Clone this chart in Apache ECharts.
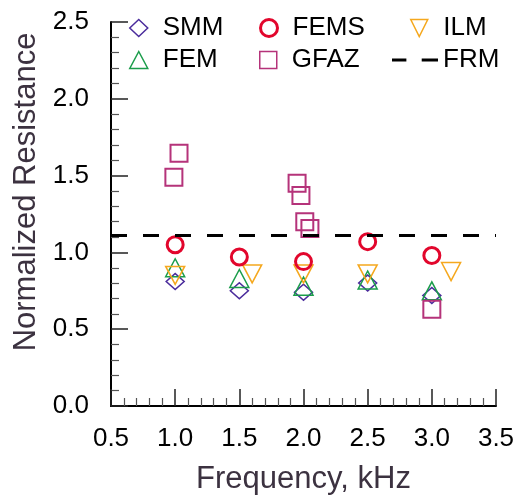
<!DOCTYPE html>
<html>
<head>
<meta charset="utf-8">
<script src="https://cdn.jsdelivr.net/npm/echarts@6/dist/echarts.min.js"></script>
<style>
  html, body { margin: 0; padding: 0; background: #fff; }
  #main { width: 518px; height: 495px; }
</style>
</head>
<body>
<div id="main"></div>
<script>
// values
var smmX = [1.0, 1.5, 2.0, 2.5, 3.0];
var smmY = [0.81, 0.75, 0.74, 0.80, 0.72];
var femsX = [1.0, 1.5, 2.0, 2.5, 3.0];
var femsY = [1.05, 0.97, 0.94, 1.07, 0.98];
var ilmX = [1.0, 1.6, 2.0, 2.5, 3.15];
var ilmY = [0.85, 0.86, 0.86, 0.86, 0.875];
var femX = [1.0, 1.5, 2.0, 2.5, 3.0];
var femY = [0.90, 0.83, 0.78, 0.82, 0.75];
var gfazX = [0.99, 1.03, 1.95, 1.98, 2.01, 2.05, 3.0];
var gfazY = [1.49, 1.645, 1.45, 1.37, 1.20, 1.155, 0.63];
var frmX = [0.5, 3.5];
var frmValue = 1.11;

function pairs(xs, ys) {
  var out = [];
  for (var i = 0; i < xs.length; i++) out.push([xs[i], ys[i]]);
  return out;
}

var FONT = 'Liberation Sans, Arial, sans-serif';
var colors = {
  SMM: '#4b2c9c',
  FEMS: '#e2062c',
  ILM: '#f5a81e',
  FEM: '#1b9d4b',
  GFAZ: '#b5337a'
};

function scatter(name, data, symbol, size, rotate, bw) {
  return {
    name: name,
    type: 'scatter',
    data: data,
    symbol: symbol,
    symbolSize: size,
    symbolRotate: rotate,
    itemStyle: { color: 'rgba(0,0,0,0)', borderColor: colors[name], borderWidth: bw, opacity: 1 },
    emphasis: { disabled: true }
  };
}

function legendItem(name, icon, left, top, w, h, bw) {
  return {
    left: left, top: top, padding: 0,
    itemWidth: w, itemHeight: h, itemGap: 0,
    selectedMode: false,
    textStyle: { fontFamily: FONT, fontSize: 26, color: '#000', padding: [0, 0, 0, name === 'FRM' ? 0 : 10] },
    data: [{
      name: name,
      icon: icon,
      itemStyle: name === 'FRM'
        ? { color: '#000', borderWidth: 0 }
        : { color: 'rgba(0,0,0,0)', borderColor: colors[name], borderWidth: bw }
    }]
  };
}

var chart = echarts.init(document.getElementById('main'), null, { renderer: 'canvas' });

var axisCommon = {
  type: 'value',
  interval: 0.5,
  splitLine: { show: false },
  axisLine: { onZero: false, lineStyle: { color: '#000', width: 2 } },
  axisTick: { inside: true, length: 17, lineStyle: { color: '#222', width: 1.5 } },
  minorTick: { show: true, splitNumber: 5, length: 8, lineStyle: { color: '#555', width: 1.2 } },
  axisLabel: {
    fontFamily: FONT, fontSize: 26, color: '#000',
    formatter: function (v) { return v.toFixed(1); }
  },
  nameLocation: 'middle',
  nameTextStyle: { fontFamily: FONT, fontSize: 31, color: '#3c3240' }
};

var option = {
  animation: false,
  backgroundColor: '#fff',
  grid: { left: 111, right: 22, top: 22, bottom: 89, outerBoundsMode: 'none', containLabel: false },
  xAxis: Object.assign({}, axisCommon, {
    min: 0.5, max: 3.5,
    name: 'Frequency, kHz',
    nameGap: 58,
    axisLabel: Object.assign({}, axisCommon.axisLabel, { margin: 20, showMaxLabel: true, showMinLabel: true })
  }),
  yAxis: Object.assign({}, axisCommon, {
    min: 0, max: 2.5,
    name: 'Normalized Resistance',
    nameGap: 58,
    nameTextStyle: Object.assign({}, axisCommon.nameTextStyle, { padding: [0, 0, 0, 44] }),
    axisLabel: Object.assign({}, axisCommon.axisLabel, { margin: 22 })
  }),
  legend: [
    legendItem('SMM', 'diamond', 129, 15, 18, 17, 1.5),
    legendItem('FEMS', 'circle', 259, 15, 17, 17, 3),
    legendItem('ILM', 'path://M0,0L2,0L1,2Z', 410, 15, 18, 17, 1.5),
    legendItem('FEM', 'triangle', 129, 47, 18, 17, 1.5),
    legendItem('GFAZ', 'rect', 259, 47, 17, 17, 1.5),
    legendItem('FRM', 'path://M0,0H15V3H0Z M31,0H48V3H31Z', 392, 47, 46, 3, 0)
  ],
  series: [
    scatter('SMM', pairs(smmX, smmY), 'diamond', [18, 16], 0, 1.5),
    scatter('FEM', pairs(femX, femY), 'triangle', [19, 18], 0, 1.5),
    scatter('ILM', pairs(ilmX, ilmY), 'triangle', [19, 18], 180, 1.5),
    scatter('GFAZ', pairs(gfazX, gfazY), 'rect', [17, 17], 0, 2),
    scatter('FEMS', pairs(femsX, femsY), 'circle', 16, 0, 3),
    {
      name: 'FRM',
      type: 'line',
      data: pairs(frmX, [frmValue, frmValue]),
      symbol: 'none',
      lineStyle: { color: '#000', width: 3, type: [16, 16] },
      emphasis: { disabled: true },
      z: 3
    }
  ]
};

chart.setOption(option);
</script>
</body>
</html>
